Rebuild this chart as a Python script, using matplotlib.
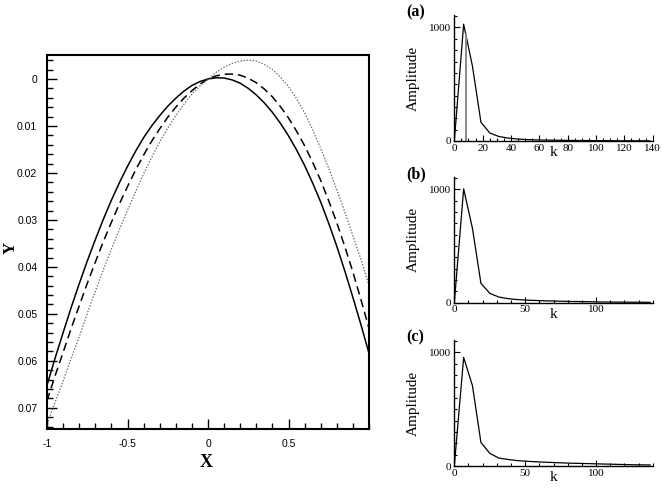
import numpy as np
import matplotlib
matplotlib.use("Agg")
import matplotlib.pyplot as plt
from matplotlib.ticker import MultipleLocator, FixedLocator, FixedFormatter

# ---------------- data ----------------
x_vals = [-1.0, -0.95, -0.9, -0.85, -0.8, -0.75, -0.7, -0.65, -0.6, -0.55, -0.5,
          -0.45, -0.4, -0.35, -0.3, -0.25, -0.2, -0.15, -0.1, -0.05, 0.0,
          0.05, 0.1, 0.15, 0.2, 0.25, 0.3, 0.35, 0.4, 0.45, 0.5,
          0.55, 0.6, 0.65, 0.7, 0.75, 0.8, 0.85, 0.9, 0.95, 1.0]
y_solid = [0.0652, 0.05945, 0.0540, 0.04865, 0.0436, 0.03875, 0.0342, 0.02985, 0.0258, 0.02205, 0.0186,
           0.0154, 0.0125, 0.0100, 0.0078, 0.0058, 0.0041, 0.0026, 0.0014, 0.00055, 0.0000,
           -0.00025, -0.0002, 0.0002, 0.0009, 0.0020, 0.0034, 0.0051, 0.0071, 0.00945, 0.0121,
           0.0151, 0.0184, 0.02215, 0.0262, 0.03075, 0.0356, 0.0409, 0.0465, 0.0523, 0.0584]
y_dashed = [0.0685, 0.0632, 0.0582, 0.0531, 0.0483, 0.0435, 0.0390, 0.0346, 0.0305, 0.02655, 0.0229,
            0.0194, 0.0162, 0.01325, 0.0106, 0.00815, 0.0060, 0.0041, 0.0025, 0.0011, 0.0000,
            -0.00065, -0.0010, -0.00105, -0.0008, -0.00015, 0.0008, 0.00215, 0.0038, 0.0059, 0.0083,
            0.0111, 0.0142, 0.01775, 0.0216, 0.02595, 0.0306, 0.0357, 0.0411, 0.04695, 0.0531]
y_dotted = [0.0735, 0.0688, 0.0643, 0.0595, 0.0549, 0.0499, 0.0452, 0.0406, 0.0362, 0.0320, 0.0280,
            0.0240, 0.0202, 0.0167, 0.0134, 0.0105, 0.0078, 0.0054, 0.0032, 0.0015, 0.0000,
            -0.0014, -0.0025, -0.0033, -0.0038, -0.0040, -0.0038, -0.0031, -0.0020, -0.0004, 0.0016,
            0.0042, 0.0072, 0.0108, 0.0148, 0.0190, 0.0236, 0.0283, 0.0334, 0.0384, 0.0439]

x_ticks = [-1, -0.5, 0, 0.5]
x_tick_labels = ["-1", "-0.5", "0", "0.5"]
y_ticks = [0, 0.01, 0.02, 0.03, 0.04, 0.05, 0.06, 0.07]
y_tick_labels = ["0", "0.01", "0.02", "0.03", "0.04", "0.05", "0.06", "0.07"]

k_vals = [0.0, 6.6, 12.8, 18.8, 25.1, 31.4, 37.7, 44.0, 50.3, 56.5, 62.8, 69.1, 75.4,
          81.7, 88.0, 94.2, 100.5, 106.8, 113.1, 119.4, 125.7, 131.9, 138.2]
amp_a = [0, 1029, 660, 165, 70, 40, 26, 18, 13, 10, 8, 7, 6, 5, 4, 4, 3, 3, 2, 2, 2, 2, 1]
amp_b = [0, 1003, 656, 170, 82, 50, 36, 28, 23, 20, 17, 15, 13, 11, 10, 9, 7, 6, 5, 5, 4, 4, 3]
amp_c = [0, 956, 708, 207, 111, 70, 58, 48, 42, 38, 34, 31, 28, 25, 23, 21, 19, 17, 15, 13, 11, 10, 9]
marker_k = 8.0
marker_amp = 940

panel_labels = ["(a)", "(b)", "(c)"]
k_major = [20, 50, 50]
k_minor = [5, 10, 10]

# ---------------- figure ----------------
plt.rcParams["lines.scale_dashes"] = False
fig = plt.figure(figsize=(6.62, 4.90), dpi=100)

sans = "Liberation Sans"
serif = "Liberation Serif"

ax = fig.add_axes([47/662, 1-429/490, 322/662, 374/490])
ax.plot(x_vals, y_solid, color="black", lw=1.1, ls="-")
ax.plot(x_vals, y_dashed, color="black", lw=1.1, dashes=(6, 3.5))
ax.plot(x_vals, y_dotted, color="#666666", lw=0.9, dashes=(1, 1.2))
ax.set_xlim(-1, 1)
ax.set_ylim(0.0745, -0.0051)
ax.xaxis.set_major_locator(FixedLocator(x_ticks))
ax.xaxis.set_major_formatter(FixedFormatter(x_tick_labels))
ax.xaxis.set_minor_locator(MultipleLocator(0.1))
ax.yaxis.set_major_locator(FixedLocator(y_ticks))
ax.yaxis.set_major_formatter(FixedFormatter(y_tick_labels))
ax.yaxis.set_minor_locator(MultipleLocator(0.002))
ax.tick_params(which="both", direction="in", top=False, right=False, width=1.0)
ax.tick_params(which="major", length=7, labelsize=7.5, pad=7)
ax.tick_params(which="minor", length=4)
for lab in ax.get_xticklabels() + ax.get_yticklabels():
    lab.set_family(sans)
for s in ax.spines.values():
    s.set_linewidth(1.5)
ax.set_xlabel("X", fontfamily=serif, fontweight="bold", fontsize=13)
ax.xaxis.set_label_coords(0.493, -0.068)
ax.set_ylabel("Y", fontfamily=serif, fontweight="bold", fontsize=12)
ax.yaxis.set_label_coords(-0.088, 0.484)

bottoms = [1-141/490, 1-302.7/490, 1-466/490]
amps = [amp_a, amp_b, amp_c]
for i in range(3):
    a = fig.add_axes([454.3/662, bottoms[i], 198.4/662, 126/490])
    a.plot(k_vals, amps[i], color="black", lw=0.9)
    if i == 0:
        a.plot([marker_k, marker_k], [0, marker_amp], color="#888888", lw=1.4)
    a.set_xlim(0, 140)
    a.set_ylim(0, 1110)
    a.spines["top"].set_visible(False)
    a.spines["right"].set_visible(False)
    for s in ("left", "bottom"):
        a.spines[s].set_linewidth(1.0)
    a.xaxis.set_major_locator(MultipleLocator(k_major[i]))
    a.xaxis.set_minor_locator(MultipleLocator(k_minor[i]))
    a.yaxis.set_major_locator(FixedLocator([0, 1000]))
    a.yaxis.set_minor_locator(MultipleLocator(100))
    a.tick_params(which="both", direction="in", width=0.8)
    a.tick_params(which="major", length=4, labelsize=8, pad=2)
    a.tick_params(which="minor", length=2)
    for lab in a.get_xticklabels() + a.get_yticklabels():
        lab.set_family(serif)
    a.set_xlabel("k", fontfamily=serif, fontsize=11)
    a.xaxis.set_label_coords(0.5025, -0.04)
    a.set_ylabel("Amplitude", fontfamily=serif, fontsize=11)
    a.yaxis.set_label_coords(-0.175, 0.5)
    a.text(-0.243, 1.02, panel_labels[i], transform=a.transAxes, fontfamily=serif,
           fontweight="bold", fontsize=11.5, ha="left", va="center")

fig.savefig("out.png", dpi=100)
